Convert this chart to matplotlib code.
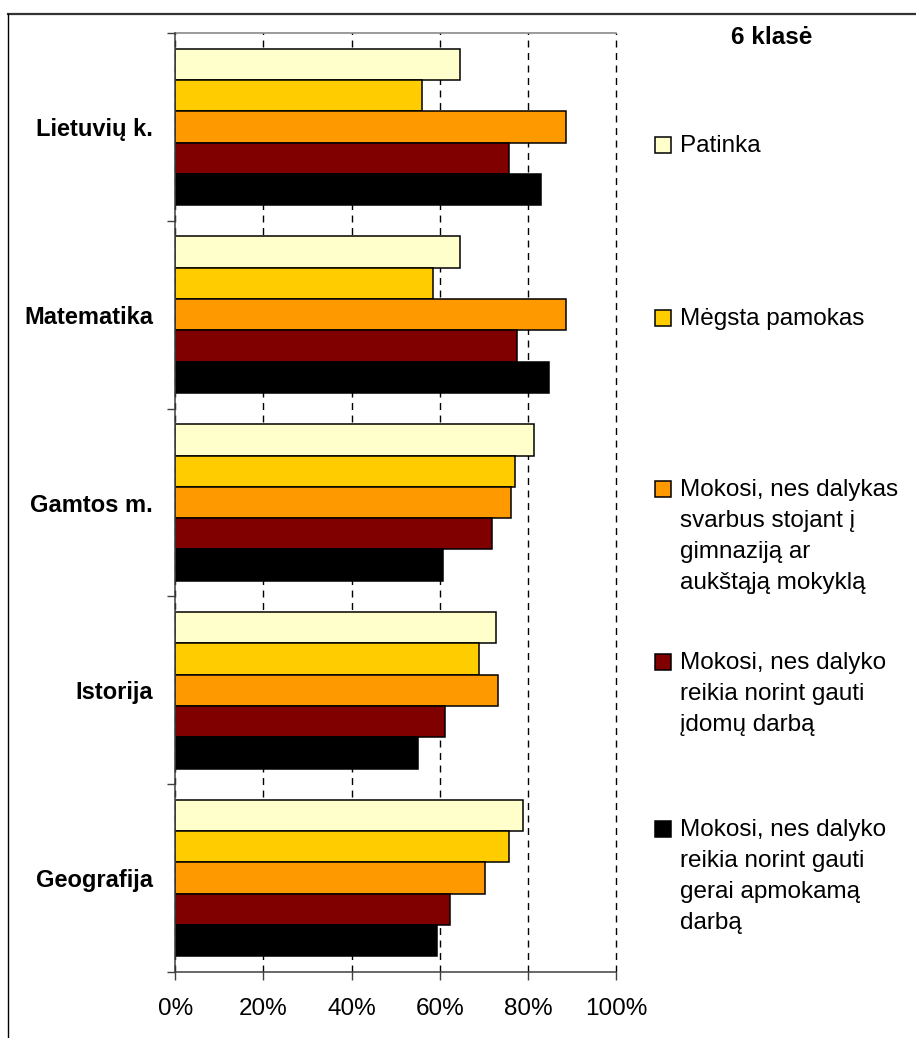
import matplotlib
matplotlib.use("Agg")
import matplotlib.pyplot as plt
from matplotlib.patches import Rectangle
from matplotlib.lines import Line2D
import numpy as np

plt.rcParams['font.family'] = ['Liberation Sans', 'DejaVu Sans']

# ---- data ----
categories = ["Lietuvių k.", "Matematika", "Gamtos m.", "Istorija", "Geografija"]
patinka = [64.6, 64.6, 81.4, 72.8, 79.0]
megsta = [56.0, 58.4, 77.1, 69.0, 75.7]
svarbus = [88.6, 88.6, 76.1, 73.2, 70.3]
idomus = [75.7, 77.6, 71.9, 61.3, 62.3]
apmokamas = [82.9, 84.9, 60.8, 55.1, 59.4]
series_labels = [
    "Patinka",
    "Mėgsta pamokas",
    "Mokosi, nes dalykas\nsvarbus stojant į\ngimnaziją ar\naukštąją mokyklą",
    "Mokosi, nes dalyko\nreikia norint gauti\nįdomų darbą",
    "Mokosi, nes dalyko\nreikia norint gauti\ngerai apmokamą\ndarbą",
]
colors = ["#FFFFCC", "#FFCC00", "#FF9900", "#800000", "#000000"]
xticks = [0, 20, 40, 60, 80, 100]
xtick_labels = ["0%", "20%", "40%", "60%", "80%", "100%"]
legend_title = "6 klasė"

# ---- layout helpers ----
W, H = 916, 1038
fig = plt.figure(figsize=(W / 100, H / 100), dpi=100)
fig.patch.set_facecolor("white")


def fx(px):
    return px / W


def fy(py):
    return 1 - py / H


ax = fig.add_axes([fx(175.3), fy(972), fx(616) - fx(175.3), fy(33) - fy(972)])

values = [patinka, megsta, svarbus, idomus, apmokamas]
n_cat = len(categories)
bar_h = 1 / 6
for j, (vals, col) in enumerate(zip(values, colors)):
    ys = np.arange(n_cat) + 1 / 12 + (j + 0.5) * bar_h
    ax.barh(ys, vals, height=bar_h, color=col, edgecolor="black",
            linewidth=1.1, zorder=3)

ax.set_xlim(0, 100)
ax.set_ylim(n_cat, 0)
ax.set_xticks(xticks)
ax.set_xticklabels(xtick_labels, fontsize=17.5)
ax.tick_params(axis="x", direction="out", length=6, width=1, color="#404040", pad=13)

ax.set_yticks(np.arange(n_cat + 1))
ax.set_yticklabels([])
ax.set_yticks(np.arange(n_cat) + 0.5, minor=True)
ax.set_yticklabels(categories, minor=True, fontsize=17, fontweight="bold")
ax.tick_params(axis="y", which="major", direction="out", length=6, width=1, color="#404040")
ax.tick_params(axis="y", which="minor", length=0, pad=16)

ax.xaxis.grid(True, linestyle=(0, (5, 4)), color="black", linewidth=1)
ax.set_axisbelow(True)
for gl in ax.get_xgridlines():
    gl.set_clip_on(False)

for side in ["left", "bottom"]:
    ax.spines[side].set_color("#404040")
    ax.spines[side].set_linewidth(1.1)
    ax.spines[side].set_zorder(4)
ax.spines["top"].set_color("#808080")
ax.spines["top"].set_linewidth(1.1)
ax.spines["right"].set_visible(False)

# ---- legend (manual) ----
fig.text(fx(772), fy(44), legend_title, ha="center", va="baseline",
         fontsize=17.5, fontweight="bold")
first_baselines = [152, 325, 496, 669, 836]
line_step = 31
for label, col, b in zip(series_labels, colors, first_baselines):
    sq = 16
    fig.patches.append(Rectangle((fx(655), fy(b + 1)), fx(sq), sq / H,
                                 transform=fig.transFigure, facecolor=col,
                                 edgecolor="black", linewidth=1.1))
    for k, line in enumerate(label.split("\n")):
        fig.text(fx(680), fy(b + k * line_step), line, ha="left",
                 va="baseline", fontsize=17.5)

# ---- outer frame ----
fig.lines.append(Line2D([fx(8), 1], [fy(14), fy(14)], transform=fig.transFigure,
                        color="#333333", linewidth=1.6))
fig.lines.append(Line2D([fx(8), fx(8)], [fy(14), 0], transform=fig.transFigure,
                        color="black", linewidth=1.0))

fig.savefig("out.png", dpi=100)
